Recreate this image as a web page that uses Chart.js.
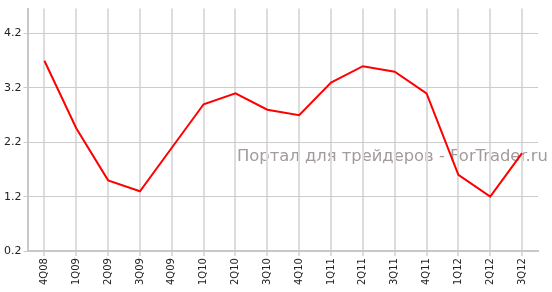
<!DOCTYPE html>
<html>
<head>
<meta charset="utf-8">
<script src="https://cdn.jsdelivr.net/npm/chart.js@4/dist/chart.umd.min.js"></script>
<style>
  html, body { margin: 0; padding: 0; background: #fff; }
  #wrap { width: 552px; height: 292px; }
</style>
</head>
<body>
<div id="wrap"><canvas id="quarterChart" width="552" height="292"></canvas></div>
<script>
// Quarter labels along the bottom
const quarters = ['4Q08', '1Q09', '2Q09', '3Q09', '4Q09', '1Q10', '2Q10', '3Q10',
                  '4Q10', '1Q11', '2Q11', '3Q11', '4Q11', '1Q12', '2Q12', '3Q12'];
// Series values
const values = [3.7, 2.46, 1.5, 1.3, 2.1, 2.9, 3.1, 2.8,
                2.7, 3.3, 3.6, 3.5, 3.1, 1.6, 1.2, 2.0];
// Y axis tick labels
const yTicks = [0.2, 1.2, 2.2, 3.2, 4.2];
const watermark = 'Портал для трейдеров - ForTrader.ru';

// Watermark drawn under the grid, sized to span x 237..548
const watermarkPlugin = {
    id: 'watermark',
    beforeDraw(chart) {
        const ctx = chart.ctx;
        ctx.save();
        ctx.font = '100px "DejaVu Sans", Verdana, sans-serif';
        const size = 100 * 311 / ctx.measureText(watermark).width;
        ctx.font = size.toFixed(2) + 'px "DejaVu Sans", Verdana, sans-serif';
        ctx.fillStyle = '#a39a9a';
        ctx.textAlign = 'left';
        ctx.textBaseline = 'alphabetic';
        ctx.fillText(watermark, 237, 161);
        ctx.restore();
    }
};

function renderQuarterChart() {
    const ctx = document.getElementById('quarterChart').getContext('2d');
    new Chart(ctx, {
        type: 'line',
        data: {
            labels: quarters,
            datasets: [{
                data: values,
                borderColor: '#ff0000',
                backgroundColor: '#ff0000',
                borderWidth: 2,
                pointRadius: 0,
                tension: 0,
                fill: false
            }]
        },
        options: {
            responsive: false,
            animation: false,
            layout: { padding: { top: 0, right: 14, left: 2, bottom: 5 } },
            plugins: {
                legend: { display: false },
                tooltip: { enabled: false }
            },
            scales: {
                x: {
                    offset: true,
                    grid: {
                        color: '#dddddd',
                        lineWidth: 2,
                        tickLength: 5,
                        offset: false
                    },
                    border: { color: '#c8c8c8', width: 2 },
                    ticks: {
                        minRotation: 90,
                        maxRotation: 90,
                        color: '#222',
                        padding: 2,
                        font: { family: '"DejaVu Sans", Verdana, sans-serif', size: 10 }
                    }
                },
                y: {
                    min: 0.2,
                    max: 4.66,
                    afterBuildTicks(axis) {
                        axis.ticks = yTicks.map(v => ({ value: v }));
                    },
                    grid: {
                        color: '#cccccc',
                        lineWidth: 1,
                        tickLength: 5
                    },
                    border: { color: '#c8c8c8', width: 2 },
                    ticks: {
                        color: '#222',
                        padding: 2,
                        callback: v => v.toFixed(1),
                        font: { family: '"DejaVu Sans", Verdana, sans-serif', size: 11 }
                    }
                }
            }
        },
        plugins: [watermarkPlugin]
    });
}

document.addEventListener('DOMContentLoaded', renderQuarterChart);
</script>
</body>
</html>
